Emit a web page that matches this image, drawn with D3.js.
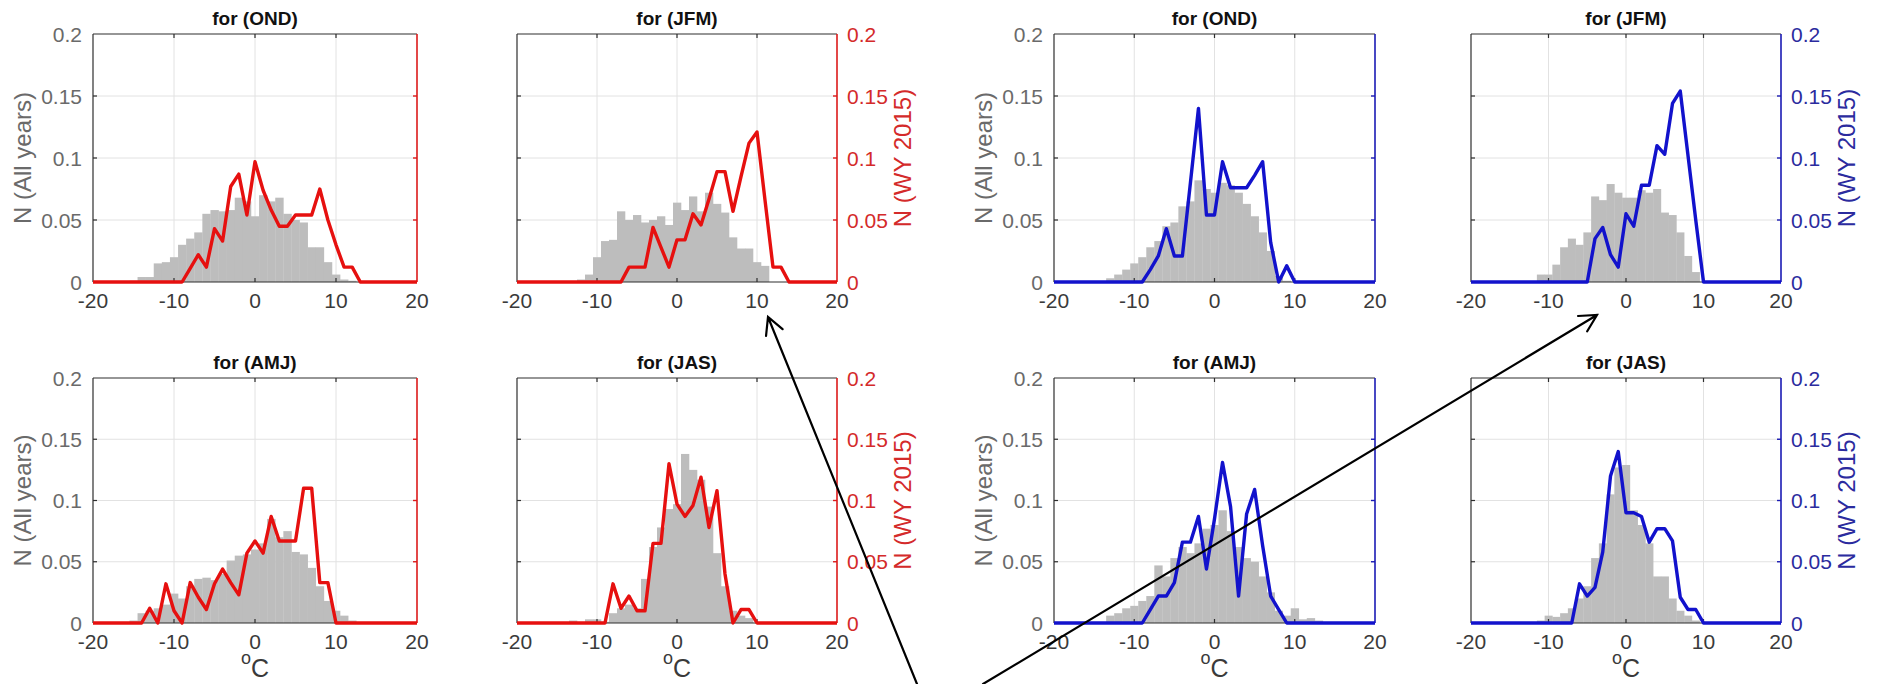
<!DOCTYPE html>
<html>
<head>
<meta charset="utf-8">
<script src="https://cdn.jsdelivr.net/npm/d3@7"></script>
<style>
body{margin:0;background:#fff;}
svg{display:block;font-family:"Liberation Sans",Arial,Helvetica,sans-serif;}
</style>
</head>
<body>
<svg id="chart"></svg>
<script>
//Figure size
var W = 1884, H = 684;

//Temperature bins (deg C), one value per bin in every series below
var temps = [-20,-19,-18,-17,-16,-15,-14,-13,-12,-11,-10,-9,-8,-7,-6,-5,-4,-3,-2,-1,0,1,2,3,4,5,6,7,8,9,10,11,12,13,14,15,16,17,18,19,20];
var xTicks = [-20,-10,0,10,20];
var yTicks = [0,0.05,0.1,0.15,0.2];

//Red site: all years (gray bars) and WY 2015 (line)
var redOND_all  = [0,0,0,0,0,0.001,0.004,0.004,0.015,0.016,0.02,0.03,0.035,0.04,0.055,0.058,0.057,0.058,0.068,0.065,0.053,0.07,0.065,0.068,0.055,0.05,0.048,0.028,0.028,0.016,0.006,0.002,0.001,0,0,0,0,0,0,0,0];
var redOND_2015 = [0,0,0,0,0,0,0,0,0,0,0,0,0.011,0.022,0.012,0.043,0.033,0.077,0.087,0.054,0.097,0.074,0.058,0.045,0.045,0.054,0.054,0.054,0.075,0.05,0.03,0.012,0.012,0,0,0,0,0,0,0,0];
var redJFM_all  = [0,0,0,0,0,0,0,0,0.002,0.006,0.02,0.033,0.034,0.057,0.05,0.054,0.048,0.05,0.053,0.046,0.064,0.058,0.069,0.057,0.072,0.063,0.056,0.036,0.027,0.027,0.016,0.013,0,0,0,0,0,0,0,0,0];
var redJFM_2015 = [0,0,0,0,0,0,0,0,0,0,0,0,0,0,0.012,0.012,0.012,0.044,0.028,0.012,0.034,0.034,0.055,0.046,0.067,0.089,0.089,0.057,0.085,0.112,0.121,0.066,0.012,0.012,0,0,0,0,0,0,0];
var redAMJ_all  = [0,0,0,0,0,0.002,0.008,0.01,0.012,0.015,0.024,0.02,0.03,0.036,0.037,0.035,0.04,0.051,0.055,0.056,0.06,0.065,0.085,0.07,0.075,0.058,0.056,0.045,0.03,0.018,0.01,0.006,0.002,0,0,0,0,0,0,0,0];
var redAMJ_2015 = [0,0,0,0,0,0,0,0.012,0,0.032,0.01,0,0.033,0.021,0.011,0.032,0.044,0.033,0.023,0.057,0.067,0.057,0.087,0.067,0.067,0.067,0.11,0.11,0.033,0.033,0,0,0,0,0,0,0,0,0,0,0];
var redJAS_all  = [0,0,0,0,0,0,0,0.002,0,0.003,0.003,0.001,0.008,0.012,0.015,0.012,0.036,0.062,0.078,0.093,0.097,0.138,0.125,0.117,0.095,0.057,0.03,0.01,0.006,0.004,0,0,0,0,0,0,0,0,0,0,0];
var redJAS_2015 = [0,0,0,0,0,0,0,0,0,0,0,0,0.032,0.012,0.022,0.01,0.01,0.065,0.065,0.13,0.097,0.087,0.096,0.119,0.078,0.108,0.04,0,0.011,0.011,0,0,0,0,0,0,0,0,0,0,0];

//Blue site: all years (gray bars) and WY 2015 (line)
var blueOND_all  = [0,0,0,0,0,0,0,0.003,0.006,0.01,0.015,0.02,0.028,0.033,0.045,0.048,0.061,0.065,0.082,0.075,0.072,0.08,0.078,0.072,0.063,0.053,0.04,0.025,0.005,0.001,0,0,0,0,0,0,0,0,0,0,0];
var blueOND_2015 = [0,0,0,0,0,0,0,0,0,0,0,0,0.01,0.021,0.043,0.021,0.021,0.08,0.14,0.054,0.054,0.097,0.076,0.076,0.076,0.086,0.097,0.032,0,0.013,0,0,0,0,0,0,0,0,0,0,0];
var blueJFM_all  = [0,0,0,0,0,0,0,0,0,0.006,0.006,0.014,0.028,0.035,0.03,0.04,0.069,0.066,0.079,0.072,0.068,0.068,0.074,0.072,0.075,0.056,0.054,0.04,0.021,0.008,0,0,0,0,0,0,0,0,0,0,0];
var blueJFM_2015 = [0,0,0,0,0,0,0,0,0,0,0,0,0,0,0,0,0.035,0.044,0.022,0.012,0.055,0.045,0.078,0.078,0.11,0.103,0.144,0.154,0.102,0.05,0,0,0,0,0,0,0,0,0,0,0];
var blueAMJ_all  = [0,0,0,0,0,0,0,0.006,0.008,0.012,0.014,0.018,0.022,0.047,0.038,0.053,0.062,0.057,0.065,0.077,0.08,0.092,0.075,0.062,0.053,0.05,0.038,0.025,0.01,0.006,0.012,0.003,0.004,0.002,0,0,0,0,0,0,0];
var blueAMJ_2015 = [0,0,0,0,0,0,0,0,0,0,0,0,0.011,0.022,0.022,0.033,0.066,0.066,0.087,0.044,0.085,0.131,0.095,0.022,0.089,0.109,0.063,0.022,0.011,0,0,0,0,0,0,0,0,0,0,0,0];
var blueJAS_all  = [0,0,0,0,0,0,0,0,0,0.002,0.006,0.005,0.008,0.012,0.02,0.03,0.053,0.065,0.105,0.127,0.129,0.092,0.08,0.065,0.038,0.038,0.02,0.01,0.006,0.002,0,0,0,0,0,0,0,0,0,0,0];
var blueJAS_2015 = [0,0,0,0,0,0,0,0,0,0,0,0,0,0,0.032,0.022,0.029,0.058,0.12,0.14,0.09,0.09,0.087,0.066,0.077,0.077,0.067,0.021,0.011,0.011,0,0,0,0,0,0,0,0,0,0,0];

//Panel layout (pixels)
var cols = [[93,417],[517,837],[1054,1375],[1471,1781]];
var rows = [[34,282],[378,623]];

var colors = {
  red:  {line:"#e6100f", axis:"#dc1a1a", text:"#d42a2a"},
  blue: {line:"#1212cc", axis:"#1a1ab4", text:"#2b2b9e"}
};

var panels = [
  {season:"OND", col:0, row:0, site:"red",  all:redOND_all,  wy:redOND_2015,  side:"left"},
  {season:"JFM", col:1, row:0, site:"red",  all:redJFM_all,  wy:redJFM_2015,  side:"right"},
  {season:"AMJ", col:0, row:1, site:"red",  all:redAMJ_all,  wy:redAMJ_2015,  side:"left"},
  {season:"JAS", col:1, row:1, site:"red",  all:redJAS_all,  wy:redJAS_2015,  side:"right"},
  {season:"OND", col:2, row:0, site:"blue", all:blueOND_all, wy:blueOND_2015, side:"left"},
  {season:"JFM", col:3, row:0, site:"blue", all:blueJFM_all, wy:blueJFM_2015, side:"right"},
  {season:"AMJ", col:2, row:1, site:"blue", all:blueAMJ_all, wy:blueAMJ_2015, side:"left"},
  {season:"JAS", col:3, row:1, site:"blue", all:blueJAS_all, wy:blueJAS_2015, side:"right"}
];

//Annotation arrows in figure pixels
var arrows = [
  {from:[917,684], to:[768,317]},
  {from:[983,684], to:[1597,315]}
];

var svg = d3.select("#chart").attr("width", W).attr("height", H);
svg.append("rect").attr("width", W).attr("height", H).attr("fill", "#fff");

function drawPanel(p){
  var x0 = cols[p.col][0], x1 = cols[p.col][1];
  var y0 = rows[p.row][0], y1 = rows[p.row][1];
  var c = colors[p.site];
  var x = d3.scaleLinear().domain([-20,20]).range([x0,x1]);
  var y = d3.scaleLinear().domain([0,0.2]).range([y1,y0]);
  var g = svg.append("g");

  //grid
  g.selectAll(".gx").data(xTicks.slice(1,-1)).enter().append("line")
    .attr("x1", function(d){ return x(d); }).attr("x2", function(d){ return x(d); })
    .attr("y1", y0).attr("y2", y1)
    .attr("stroke", "#e2e2e2").attr("stroke-width", 1);
  g.selectAll(".gy").data(yTicks.slice(1,-1)).enter().append("line")
    .attr("x1", x0).attr("x2", x1)
    .attr("y1", function(d){ return y(d); }).attr("y2", function(d){ return y(d); })
    .attr("stroke", "#e2e2e2").attr("stroke-width", 1);

  //all years histogram
  var bins = temps.map(function(t,i){ return {t:t, v:p.all[i]}; }).filter(function(d){ return d.v > 0; });
  g.selectAll(".bar").data(bins).enter().append("rect")
    .attr("x", function(d){ return x(d.t - 0.5); })
    .attr("width", function(d){ return x(d.t + 0.5) - x(d.t - 0.5) + 0.3; })
    .attr("y", function(d){ return y(d.v); })
    .attr("height", function(d){ return y(0) - y(d.v); })
    .attr("fill", "#bdbdbd");

  //box: top, left, bottom dark; right coloured
  var dark = "#2e2e2e";
  g.append("line").attr("x1",x0).attr("x2",x1).attr("y1",y0).attr("y2",y0).attr("stroke",dark).attr("stroke-width",1.2);
  g.append("line").attr("x1",x0).attr("x2",x0).attr("y1",y0).attr("y2",y1).attr("stroke",dark).attr("stroke-width",1.2);
  g.append("line").attr("x1",x0).attr("x2",x1).attr("y1",y1).attr("y2",y1).attr("stroke",dark).attr("stroke-width",1.2);
  g.append("line").attr("x1",x1).attr("x2",x1).attr("y1",y0).attr("y2",y1).attr("stroke",c.axis).attr("stroke-width",1.6);

  //inward ticks
  var tl = 4;
  g.selectAll(".tx").data(xTicks.slice(1,-1)).enter().append("path")
    .attr("d", function(d){ return "M"+x(d)+","+y0+"v"+tl+"M"+x(d)+","+y1+"v"+(-tl); })
    .attr("stroke", dark).attr("stroke-width", 1.2);
  g.selectAll(".tyl").data(yTicks.slice(1,-1)).enter().append("path")
    .attr("d", function(d){ return "M"+x0+","+y(d)+"h"+tl; })
    .attr("stroke", dark).attr("stroke-width", 1.2);
  g.selectAll(".tyr").data(yTicks.slice(1,-1)).enter().append("path")
    .attr("d", function(d){ return "M"+x1+","+y(d)+"h"+(-tl); })
    .attr("stroke", c.axis).attr("stroke-width", 1.4);

  //WY 2015 line
  var line = d3.line().x(function(d){ return x(d[0]); }).y(function(d){ return y(d[1]); });
  g.append("path")
    .datum(temps.map(function(t,i){ return [t, p.wy[i]]; }))
    .attr("d", line)
    .attr("fill", "none").attr("stroke", c.line).attr("stroke-width", 3.4)
    .attr("stroke-linejoin", "round");

  //x tick labels
  g.selectAll(".lx").data(xTicks).enter().append("text")
    .attr("x", function(d){ return x(d); }).attr("y", y1 + 25.5)
    .attr("text-anchor", "middle").attr("font-size", 21).attr("fill", "#3a3a3a")
    .text(function(d){ return String(d); });

  //y tick labels and label
  if (p.side == "left"){
    g.selectAll(".ly").data(yTicks).enter().append("text")
      .attr("x", x0 - 11).attr("y", function(d){ return y(d); }).attr("dy", "0.36em")
      .attr("text-anchor", "end").attr("font-size", 21).attr("fill", "#6a6a6a")
      .text(function(d){ return String(d); });
    g.append("text")
      .attr("transform", "translate(" + (x0 - 62) + "," + ((y0 + y1) / 2) + ") rotate(-90)")
      .attr("text-anchor", "middle").attr("font-size", 24).attr("fill", "#6a6a6a")
      .text("N (All years)");
  } else {
    g.selectAll(".ly").data(yTicks).enter().append("text")
      .attr("x", x1 + 10).attr("y", function(d){ return y(d); }).attr("dy", "0.36em")
      .attr("text-anchor", "start").attr("font-size", 21).attr("fill", c.text)
      .text(function(d){ return String(d); });
    g.append("text")
      .attr("transform", "translate(" + (x1 + 74) + "," + ((y0 + y1) / 2) + ") rotate(-90)")
      .attr("text-anchor", "middle").attr("font-size", 24).attr("fill", c.text)
      .text("N (WY 2015)");
  }

  //title
  g.append("text")
    .attr("x", (x0 + x1) / 2).attr("y", y0 - 9.5)
    .attr("text-anchor", "middle").attr("font-size", 19).attr("font-weight", "bold").attr("fill", "#111")
    .text("for (" + p.season + ")");

  //x label on bottom row
  if (p.row == 1){
    var t = g.append("text")
      .attr("x", (x0 + x1) / 2).attr("y", 677)
      .attr("text-anchor", "middle").attr("fill", "#3a3a3a");
    t.append("tspan").attr("font-size", 18).attr("dy", -13).text("o");
    t.append("tspan").attr("font-size", 25).attr("dy", 13).text("C");
  }
}

panels.forEach(drawPanel);

//annotation arrows
arrows.forEach(function(a){
  var dx = a.to[0] - a.from[0], dy = a.to[1] - a.from[1];
  var ang = Math.atan2(-dy, -dx), L = 19, h = 28 * Math.PI / 180;
  var p1 = [a.to[0] + L * Math.cos(ang + h), a.to[1] + L * Math.sin(ang + h)];
  var p2 = [a.to[0] + L * Math.cos(ang - h), a.to[1] + L * Math.sin(ang - h)];
  svg.append("path")
    .attr("d", "M" + a.from + "L" + a.to + "M" + p1 + "L" + a.to + "L" + p2)
    .attr("fill", "none").attr("stroke", "#000").attr("stroke-width", 2.2)
    .attr("stroke-linecap", "round");
});
</script>
</body>
</html>
